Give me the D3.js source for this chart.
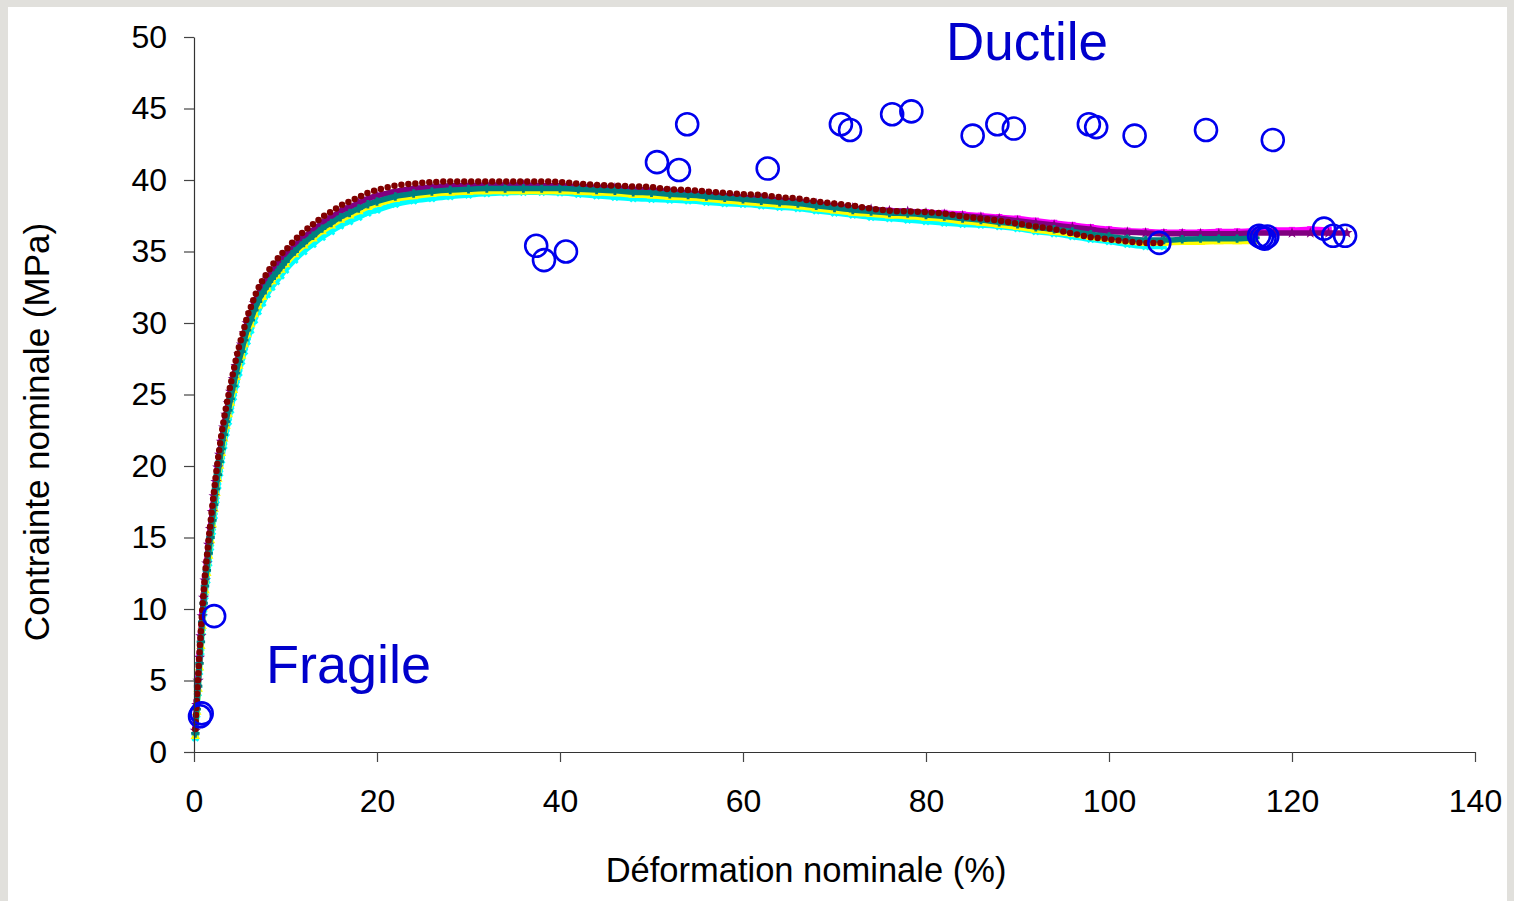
<!DOCTYPE html>
<html>
<head>
<meta charset="utf-8">
<script src="https://cdn.jsdelivr.net/npm/d3@7"></script>
<style>
  html, body { margin: 0; padding: 0; background: #e1e0dc; }
  svg { display: block; }
  text { font-family: "Liberation Sans", Arial, sans-serif; }
</style>
</head>
<body>
<svg id="chart" width="1514" height="901"></svg>
<script>
// ---------- data ----------
const strain = [
  0.15, 0.3, 0.45, 0.6, 0.75, 0.9, 1.05, 1.2, 1.4, 1.6,
  1.8, 2.0, 2.2, 2.4, 2.6, 2.8, 3.0, 3.25, 3.5, 3.75,
  4.0, 4.3, 4.6, 4.9, 5.2, 5.5, 5.8, 6.2, 6.6, 7.0,
  7.5, 8.0, 8.5, 9.0, 9.5, 10, 11, 12, 13, 14,
  15, 16, 17, 18, 19, 20, 22, 24, 26, 28,
  30, 32, 34, 36, 38, 40, 42, 44, 46, 48,
  50, 52, 54, 56, 58, 60, 62, 64, 66, 68,
  70, 72, 74, 76, 78, 80, 82, 84, 86, 88,
  90, 92, 94, 96, 98, 100, 102, 104, 106, 108,
  110, 112, 114, 116, 118, 120, 122, 124, 126
];

const stressCyan = [
  1.0, 2.6, 4.1, 5.6, 7.0, 8.4, 9.7, 10.9, 12.0, 13.2,
  14.3, 15.4, 16.5, 17.6, 18.6, 19.5, 20.4, 21.4, 22.3, 23.1,
  23.9, 24.8, 25.7, 26.5, 27.3, 28.0, 28.7, 29.5, 30.2, 30.8,
  31.4, 32.0, 32.5, 32.9, 33.3, 33.7, 34.4, 35.0, 35.5, 36.0,
  36.4, 36.8, 37.1, 37.4, 37.7, 37.9, 38.3, 38.55, 38.7, 38.85,
  38.95, 39.05, 39.1, 39.15, 39.15, 39.1, 39.0, 38.9, 38.8, 38.7,
  38.65, 38.6, 38.55, 38.45, 38.35, 38.3, 38.2, 38.1, 38.0, 37.85,
  37.7, 37.55, 37.4, 37.3, 37.2, 37.1, 37.0, 36.9, 36.85, 36.75,
  36.6, 36.4, 36.25, 36.05, 35.85, 35.7, 35.5, 35.35, 35.35, null,
  null, null, null, null, null, null, null, null, null
];

const stressYellow = [
  1.1, 2.8, 4.4, 5.9, 7.4, 8.8, 10.1, 11.3, 12.5, 13.7,
  14.8, 15.9, 17.0, 18.1, 19.1, 20.0, 20.9, 21.9, 22.8, 23.6,
  24.4, 25.3, 26.2, 27.0, 27.7, 28.5, 29.2, 29.9, 30.6, 31.2,
  31.8, 32.4, 32.9, 33.3, 33.7, 34.1, 34.8, 35.4, 35.9, 36.4,
  36.8, 37.2, 37.5, 37.8, 38.1, 38.3, 38.65, 38.85, 39.0, 39.1,
  39.15, 39.2, 39.2, 39.2, 39.2, 39.2, 39.15, 39.1, 39.05, 38.95,
  38.9, 38.8, 38.75, 38.65, 38.55, 38.45, 38.35, 38.25, 38.15, 38.0,
  37.85, 37.7, 37.6, 37.5, 37.45, 37.35, 37.25, 37.1, 37.0, 36.85,
  36.7, 36.5, 36.35, 36.2, 36.0, 35.85, 35.7, 35.6, 35.6, 35.65,
  35.65, 35.7, 35.7, 35.7, null, null, null, null, null
];

const stressMagenta = [
  1.7, 3.5, 5.1, 6.7, 8.2, 9.6, 10.9, 12.1, 13.3, 14.6,
  15.7, 16.8, 17.9, 18.9, 19.9, 20.8, 21.7, 22.6, 23.5, 24.3,
  25.1, 26.0, 26.9, 27.7, 28.4, 29.2, 29.9, 30.6, 31.3, 31.9,
  32.5, 33.0, 33.5, 33.9, 34.3, 34.6, 35.3, 35.9, 36.4, 36.9,
  37.3, 37.7, 38.0, 38.3, 38.55, 38.75, 39.05, 39.25, 39.35, 39.45,
  39.5, 39.55, 39.55, 39.55, 39.55, 39.5, 39.45, 39.4, 39.35, 39.3,
  39.2, 39.1, 39.0, 38.9, 38.85, 38.75, 38.65, 38.55, 38.45, 38.3,
  38.15, 38.0, 37.9, 37.85, 37.8, 37.75, 37.7, 37.6, 37.5, 37.4,
  37.3, 37.15, 37.0, 36.85, 36.7, 36.55, 36.45, 36.4, 36.35, 36.35,
  36.35, 36.4, 36.4, 36.45, 36.5, 36.5, 36.55, 36.5, null
];

const stressPurple = [
  1.5, 3.3, 5.0, 6.6, 8.1, 9.5, 10.8, 12.0, 13.2, 14.5,
  15.6, 16.8, 17.9, 18.9, 19.9, 20.8, 21.7, 22.7, 23.6, 24.4,
  25.2, 26.1, 27.0, 27.8, 28.5, 29.3, 30.0, 30.7, 31.4, 32.0,
  32.6, 33.1, 33.6, 34.0, 34.4, 34.7, 35.4, 36.0, 36.5, 37.0,
  37.4, 37.8, 38.1, 38.4, 38.7, 38.9, 39.2, 39.4, 39.5, 39.6,
  39.6, 39.65, 39.65, 39.65, 39.6, 39.6, 39.55, 39.5, 39.45, 39.35,
  39.3, 39.2, 39.1, 39.0, 38.9, 38.8, 38.7, 38.6, 38.5, 38.35,
  38.2, 38.05, 37.95, 37.85, 37.8, 37.7, 37.6, 37.5, 37.4, 37.3,
  37.15, 37.0, 36.85, 36.7, 36.55, 36.4, 36.35, 36.3, 36.25, 36.25,
  36.25, 36.25, 36.25, 36.3, 36.3, 36.3, 36.3, 36.3, 36.3
];

const stressDarkRed = [
  1.6, 3.6, 5.3, 7.0, 8.5, 9.9, 11.2, 12.4, 13.6, 14.9,
  16.0, 17.2, 18.3, 19.4, 20.4, 21.3, 22.2, 23.2, 24.1, 24.9,
  25.7, 26.6, 27.5, 28.3, 29.0, 29.7, 30.4, 31.1, 31.8, 32.4,
  33.0, 33.5, 34.0, 34.4, 34.8, 35.1, 35.8, 36.4, 36.9, 37.4,
  37.8, 38.2, 38.5, 38.8, 39.1, 39.3, 39.6, 39.75, 39.85, 39.9,
  39.9, 39.9, 39.9, 39.9, 39.9, 39.85, 39.75, 39.65, 39.6, 39.55,
  39.5, 39.35, 39.3, 39.2, 39.1, 39.0, 38.95, 38.8, 38.7, 38.5,
  38.35, 38.2, 38.0, 37.85, 37.8, 37.75, 37.65, 37.45, 37.3, 37.15,
  36.95, 36.75, 36.55, 36.25, 36.0, 35.85, 35.7, 35.6, 35.6, null,
  null, null, null, null, null, null, null, null, null
];

const stressTeal = [
  1.3, 3.0, 4.6, 6.2, 7.7, 9.1, 10.4, 11.6, 12.7, 13.9,
  15.0, 16.2, 17.3, 18.4, 19.4, 20.3, 21.2, 22.2, 23.1, 23.9,
  24.7, 25.6, 26.5, 27.3, 28.0, 28.8, 29.5, 30.2, 30.9, 31.5,
  32.1, 32.6, 33.1, 33.5, 33.9, 34.3, 35.0, 35.6, 36.1, 36.6,
  37.0, 37.4, 37.7, 38.0, 38.3, 38.5, 38.85, 39.05, 39.2, 39.3,
  39.35, 39.4, 39.4, 39.4, 39.4, 39.4, 39.35, 39.3, 39.25, 39.15,
  39.1, 39.0, 38.95, 38.85, 38.75, 38.65, 38.55, 38.45, 38.35, 38.2,
  38.05, 37.9, 37.8, 37.7, 37.65, 37.55, 37.45, 37.3, 37.2, 37.05,
  36.9, 36.7, 36.55, 36.4, 36.2, 36.05, 35.9, 35.8, 35.8, 35.85,
  35.9, 35.9, 35.9, 35.95, null, null, null, null, null
];

// rupture points (open blue circles)
const ruptureStrain = [
  0.66, 0.84, 2.2, 37.4, 38.25, 40.65, 50.6, 53.0, 53.9, 62.7,
  70.7, 71.7, 76.3, 78.4, 85.1, 87.8, 89.6, 97.8, 98.6, 102.8,
  105.5, 110.6, 116.4, 116.7, 117.0, 117.3, 117.9, 123.5, 124.5, 125.8
];
const ruptureStress = [
  2.5, 2.7, 9.5, 35.4, 34.4, 35.0, 41.25, 40.7, 43.9, 40.8,
  43.9, 43.5, 44.6, 44.8, 43.1, 43.9, 43.6, 43.9, 43.7, 43.1,
  35.6, 43.5, 36.1, 36.0, 35.9, 36.05, 42.8, 36.6, 36.1, 36.1
];

const xTicks = [0, 20, 40, 60, 80, 100, 120, 140];
const yTicks = [0, 5, 10, 15, 20, 25, 30, 35, 40, 45, 50];

// ---------- chart ----------
const svg = d3.select("#chart");
svg.append("rect").attr("x", 8).attr("y", 7).attr("width", 1499).attr("height", 900).attr("fill", "#ffffff");

const x = d3.scaleLinear().domain([0, 140]).range([194, 1475]);
const y = d3.scaleLinear().domain([0, 50]).range([752, 37]);

const series = [
  { values: stressCyan,    color: "#00ffff", symbol: d3.symbolCross, rot: 45, dots: false },
  { values: stressYellow,  color: "#ffff00", symbol: d3.symbolTriangle, rot: 0, dots: false },
  { values: stressMagenta, color: "#ff00ff", symbol: d3.symbolSquare, rot: 0, dots: false },
  { values: stressPurple,  color: "#800080", symbol: d3.symbolStar, rot: 0, dots: false },
  { values: stressTeal,    color: "#008080", symbol: d3.symbolCross, rot: 0, dots: false },
  { values: stressDarkRed, color: "#800000", symbol: d3.symbolCircle, rot: 0, dots: true }
];

const line = d3.line()
  .defined(d => d[1] != null)
  .x(d => x(d[0]))
  .y(d => y(d[1]))
  .curve(d3.curveMonotoneX);

const plot = svg.append("g");
series.forEach(s => {
  const pts = strain.map((v, i) => [v, s.values[i]]);
  const g = plot.append("g");
  const p = g.append("path")
    .attr("d", line(pts))
    .attr("fill", "none")
    .attr("stroke", s.color)
    .attr("stroke-linejoin", "round")
    .attr("stroke-linecap", "round");
  if (s.dots) {
    p.attr("stroke-width", 6.5).attr("stroke-dasharray", "0 7");
  } else {
    p.attr("stroke-width", 5.5);
    g.selectAll("path.m")
      .data(pts.filter(d => d[1] != null))
      .join("path")
      .attr("class", "m")
      .attr("d", d3.symbol().type(s.symbol).size(40))
      .attr("transform", d => `translate(${x(d[0])},${y(d[1])}) rotate(${s.rot})`)
      .attr("fill", s.color);
  }
});

// rupture circles
svg.append("g").selectAll("circle")
  .data(ruptureStrain.map((v, i) => [v, ruptureStress[i]]))
  .join("circle")
  .attr("cx", d => x(d[0]))
  .attr("cy", d => y(d[1]))
  .attr("r", 11)
  .attr("fill", "none")
  .attr("stroke", "#0000ee")
  .attr("stroke-width", 2.6);

// axes
const xAxis = d3.axisBottom(x).tickValues(xTicks).tickSize(10).tickSizeOuter(0).tickPadding(27);
const yAxis = d3.axisLeft(y).tickValues(yTicks).tickSize(10).tickSizeOuter(0).tickPadding(17);

const gx = svg.append("g").attr("transform", "translate(0,752)").call(xAxis);
const gy = svg.append("g").attr("transform", "translate(194,0)").call(yAxis);
[gx, gy].forEach(g => {
  g.select(".domain").attr("stroke", "#333").attr("stroke-width", 1.2);
  g.selectAll(".tick line").attr("stroke", "#444").attr("stroke-width", 1.2);
  g.selectAll(".tick text").attr("font-size", 32).attr("fill", "#000")
    .attr("font-family", "'Liberation Sans', Arial, sans-serif");
});

// axis titles
svg.append("text")
  .attr("x", 806).attr("y", 882)
  .attr("text-anchor", "middle")
  .attr("font-size", 34.5)
  .attr("fill", "#000")
  .text("Déformation nominale (%)");

svg.append("text")
  .attr("transform", "translate(49,432) rotate(-90)")
  .attr("text-anchor", "middle")
  .attr("font-size", 35)
  .attr("fill", "#000")
  .text("Contrainte nominale (MPa)");

// annotations
svg.append("text")
  .attr("x", 946).attr("y", 60)
  .attr("font-size", 53)
  .attr("fill", "#0000cc")
  .text("Ductile");

svg.append("text")
  .attr("x", 266).attr("y", 683)
  .attr("font-size", 54)
  .attr("fill", "#0000cc")
  .text("Fragile");
</script>
</body>
</html>
